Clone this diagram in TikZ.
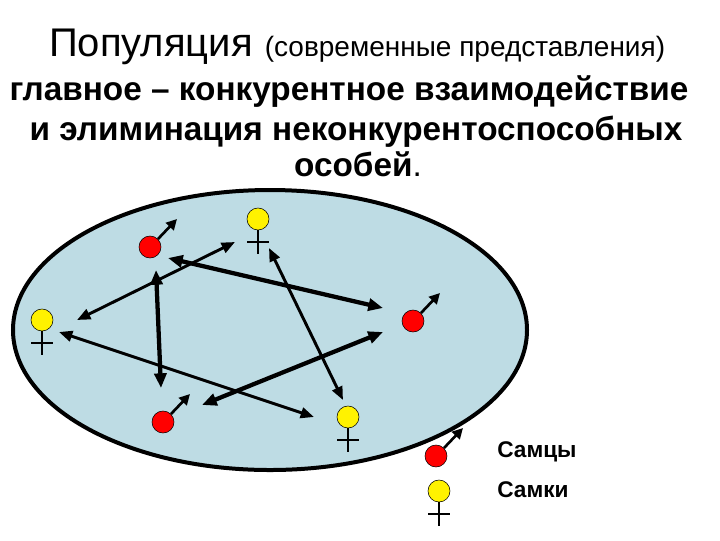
\documentclass[tikz,border=0pt]{standalone}
\usepackage{fontspec}
\setmainfont{Liberation Sans}
\usetikzlibrary{arrows.meta}
\begin{document}
\begin{tikzpicture}[x=0.75pt,y=-0.75pt,
  male/.style={circle,draw=black,fill=red,minimum size=16.5pt,inner sep=0pt},
  female/.style={circle,draw=black,fill=yellow,minimum size=16.5pt,inner sep=0pt},
  sym/.style={line width=2pt,-{Triangle[length=8pt,width=8pt]}},
  cross/.style={line width=2pt},
  rel/.style={line width=2.2pt,{Triangle[length=10pt,width=8pt]}-{Triangle[length=10pt,width=8pt]}},
  relthick/.style={line width=3.2pt,{Triangle[length=11pt,width=9pt]}-{Triangle[length=11pt,width=9pt]}},
  txt/.style={inner sep=0pt,anchor=base}]
\useasboundingbox (0,0) rectangle (720,540);
\node[txt] (t1) at (151,56) {\fontsize{30pt}{34pt}\selectfont Популяция};
\node[txt] (t2) at (465,56) {\fontsize{21pt}{25pt}\selectfont (современные представления)};
\node[txt] (t3) at (349,100) {\fontsize{25pt}{30pt}\selectfont\bfseries главное – конкурентное взаимодействие};
\node[txt] (t4) at (356,140) {\fontsize{25pt}{30pt}\selectfont\bfseries и элиминация неконкурентоспособных};
\node[txt] (t5) at (358,176) {\fontsize{25pt}{30pt}\selectfont\bfseries особей\mdseries.};
\draw[line width=3pt,fill={rgb,255:red,190;green,220;blue,228}] (270,330) ellipse [x radius=257,y radius=140];
% males
\foreach \n/\x/\y in {m1/150/247,m2/413/321,m3/163/422,m4/436/456}{
  \node[male] (\n) at (\x,\y) {};
  \coordinate (\n t) at (\x+27,\y-28);
  \draw[sym] (\n.45) -- (\n t);
}
% females
\foreach \n/\x/\y in {f1/258/219,f2/42/320,f3/348/417,f4/439/491}{
  \node[female] (\n) at (\x,\y) {};
  \coordinate (\n b) at (\x,\y+35);
  \coordinate (\n l) at (\x-11,\y+23);
  \coordinate (\n r) at (\x+11,\y+23);
  \draw[cross] (\n.south) -- (\n b);
  \draw[cross] (\n l) -- (\n r);
}
\coordinate (a1) at (168,258); \coordinate (a2) at (383,308);
\coordinate (b1) at (156,270); \coordinate (b2) at (161,388);
\coordinate (c1) at (77,320); \coordinate (c2) at (235,242);
\coordinate (d1) at (269,248); \coordinate (d2) at (343,400);
\coordinate (e1) at (59,332); \coordinate (e2) at (314,417);
\coordinate (g1) at (202,405); \coordinate (g2) at (383,332);
\draw[relthick] (a1) -- (a2);
\draw[relthick] (b1) -- (b2);
\draw[rel] (c1) -- (c2);
\draw[rel] (d1) -- (d2);
\draw[rel] (e1) -- (e2);
\draw[relthick] (g1) -- (g2);
\node[txt,anchor=base west] (l1) at (497,457) {\fontsize{17pt}{20pt}\selectfont\bfseries Самцы};
\node[txt,anchor=base west] (l2) at (497,497) {\fontsize{17pt}{20pt}\selectfont\bfseries Самки};
\end{tikzpicture}
\end{document}
